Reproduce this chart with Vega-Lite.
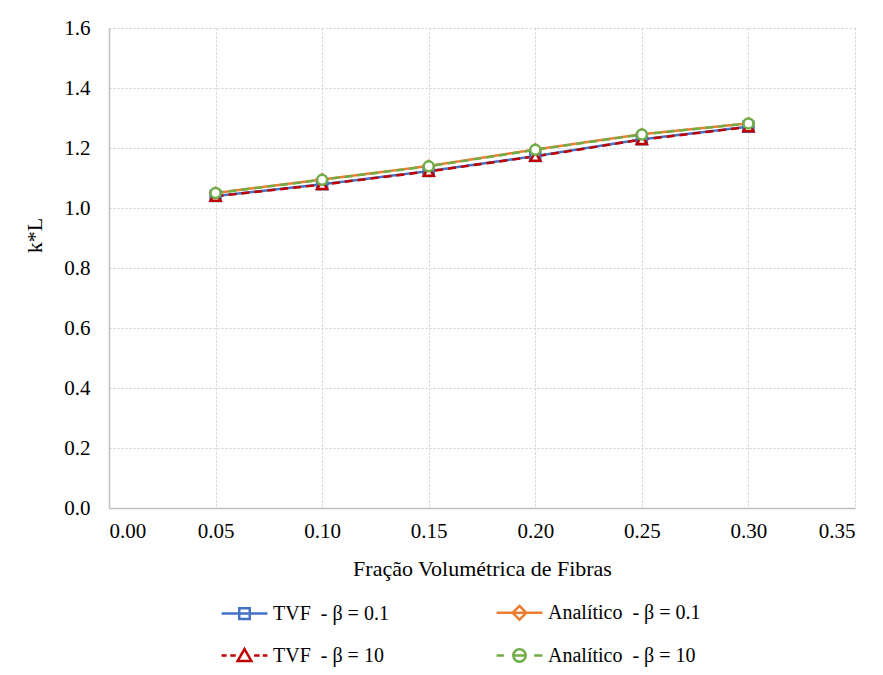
{
  "$schema": "https://vega.github.io/schema/vega-lite/v6.json",
  "width": 746,
  "height": 480,
  "autosize": {"type": "none"},
  "padding": {"left": 109, "top": 28, "right": 28, "bottom": 167},
  "background": "white",
  "config": {
    "font": "Liberation Serif",
    "view": {"stroke": null},
    "axis": {
      "labelFont": "Liberation Serif",
      "labelFontSize": 21,
      "labelColor": "#000000",
      "titleFont": "Liberation Serif",
      "titleFontSize": 22,
      "titleFontWeight": "normal",
      "titleColor": "#000000",
      "gridColor": "#d0d0d0",
      "gridDash": [2, 2],
      "gridWidth": 1,
      "domainColor": "#bfbfbf",
      "domainWidth": 1.5,
      "ticks": false
    }
  },
  "data": {
    "values": [
      {"serie": "s1", "beta": "0.1", "frac": 0.05, "k": 1.040},
      {"serie": "s1", "beta": "0.1", "frac": 0.10, "k": 1.079},
      {"serie": "s1", "beta": "0.1", "frac": 0.15, "k": 1.123},
      {"serie": "s1", "beta": "0.1", "frac": 0.20, "k": 1.173},
      {"serie": "s1", "beta": "0.1", "frac": 0.25, "k": 1.229},
      {"serie": "s1", "beta": "0.1", "frac": 0.30, "k": 1.271},
      {"serie": "s2", "beta": "0.1", "frac": 0.05, "k": 1.050},
      {"serie": "s2", "beta": "0.1", "frac": 0.10, "k": 1.095},
      {"serie": "s2", "beta": "0.1", "frac": 0.15, "k": 1.140},
      {"serie": "s2", "beta": "0.1", "frac": 0.20, "k": 1.195},
      {"serie": "s2", "beta": "0.1", "frac": 0.25, "k": 1.246},
      {"serie": "s2", "beta": "0.1", "frac": 0.30, "k": 1.282},
      {"serie": "s3", "beta": "10", "frac": 0.05, "k": 1.039},
      {"serie": "s3", "beta": "10", "frac": 0.10, "k": 1.078},
      {"serie": "s3", "beta": "10", "frac": 0.15, "k": 1.122},
      {"serie": "s3", "beta": "10", "frac": 0.20, "k": 1.172},
      {"serie": "s3", "beta": "10", "frac": 0.25, "k": 1.228},
      {"serie": "s3", "beta": "10", "frac": 0.30, "k": 1.270},
      {"serie": "s4", "beta": "10", "frac": 0.05, "k": 1.050},
      {"serie": "s4", "beta": "10", "frac": 0.10, "k": 1.094},
      {"serie": "s4", "beta": "10", "frac": 0.15, "k": 1.139},
      {"serie": "s4", "beta": "10", "frac": 0.20, "k": 1.194},
      {"serie": "s4", "beta": "10", "frac": 0.25, "k": 1.245},
      {"serie": "s4", "beta": "10", "frac": 0.30, "k": 1.282}
    ]
  },
  "encoding": {
    "x": {
      "field": "frac",
      "type": "quantitative",
      "scale": {"domain": [0, 0.35], "nice": false, "zero": false},
      "axis": {
        "values": [0, 0.05, 0.1, 0.15, 0.2, 0.25, 0.3, 0.35],
        "format": ".2f",
        "title": "Fração Volumétrica de Fibras",
        "labelPadding": 12,
        "titlePadding": 17
      }
    },
    "y": {
      "field": "k",
      "type": "quantitative",
      "scale": {"domain": [0, 1.6], "nice": false},
      "axis": {
        "values": [0, 0.2, 0.4, 0.6, 0.8, 1.0, 1.2, 1.4, 1.6],
        "format": ".1f",
        "title": "k*L",
        "labelPadding": 19,
        "titleX": -75,
        "titleY": 207,
        "titleAngle": -90,
        "titleAlign": "center",
        "titleBaseline": "middle",
        "titleFontSize": 22
      }
    }
  },
  "layer": [
    {
      "mark": {"type": "line", "strokeWidth": 2.5},
      "encoding": {
        "color": {"field": "serie", "type": "nominal", "scale": {"domain": ["s1", "s2", "s3", "s4"], "range": ["#4472C4", "#ED7D31", "#C00000", "#70AD47"]}},
        "strokeDash": {"field": "beta", "type": "nominal", "scale": {"domain": ["0.1", "10"], "range": [[1, 0], [8, 5]]}, "legend": null},
        "detail": {"field": "serie"}
      }
    },
    {
      "transform": [{"filter": "datum.serie == 's1'"}],
      "mark": {"type": "point", "shape": "square", "filled": false, "fill": "white", "strokeWidth": 2.5, "size": 100, "opacity": 1},
      "encoding": {"color": {"field": "serie", "type": "nominal"}}
    },
    {
      "transform": [{"filter": "datum.serie == 's2'"}],
      "mark": {"type": "point", "shape": "diamond", "filled": false, "fill": "white", "strokeWidth": 2.5, "size": 110, "opacity": 1},
      "encoding": {"color": {"field": "serie", "type": "nominal"}}
    },
    {
      "transform": [{"filter": "datum.serie == 's3'"}],
      "mark": {"type": "point", "shape": "triangle-up", "filled": false, "fill": "white", "strokeWidth": 2.5, "size": 100, "opacity": 1},
      "encoding": {"color": {"field": "serie", "type": "nominal"}}
    },
    {
      "transform": [{"filter": "datum.serie == 's4'"}],
      "mark": {"type": "point", "shape": "circle", "filled": false, "fill": "white", "strokeWidth": 2.5, "size": 100, "opacity": 1},
      "encoding": {"color": {"field": "serie", "type": "nominal"}}
    },
    {
      "mark": {"type": "point", "filled": false, "fill": "white", "strokeWidth": 2.5, "size": 0},
      "encoding": {
        "color": {
          "field": "serie",
          "type": "nominal",
          "legend": {
            "title": null,
            "orient": "none",
            "direction": "horizontal",
            "legendX": 111,
            "legendY": 560,
            "columns": 2,
            "columnPadding": 102,
            "rowPadding": 6,
            "padding": 0,
            "symbolSize": 2100,
            "symbolStrokeWidth": 2.5,
            "symbolFillColor": "white",
            "labelFont": "Liberation Serif",
            "labelFontSize": 20,
            "labelColor": "#000000",
            "labelOffset": 4,
            "labelLimit": 300,
            "labelExpr": "datum.value == 's1' ? 'TVF\u00a0 - β = 0.1' : datum.value == 's2' ? 'Analítico\u00a0 - β = 0.1' : datum.value == 's3' ? 'TVF\u00a0 - β = 10' : 'Analítico\u00a0 - β = 10'"
          }
        },
        "shape": {
          "field": "serie",
          "type": "nominal",
          "scale": {
            "domain": ["s1", "s2", "s3", "s4"],
            "range": [
              "M-1,0H1M-0.23,-0.23H0.23V0.23H-0.23Z",
              "M-1,0H1M0,-0.3L0.3,0L0,0.3L-0.3,0Z",
              "M-1,0H-0.78M-0.62,0H-0.38M0,-0.28L0.3,0.24H-0.3ZM0.42,0H0.66M0.8,0H1",
              "M-1,0H-0.68M0.64,0H1M0.27,0A0.27,0.27,0,1,1,-0.27,0A0.27,0.27,0,1,1,0.27,0ZM-0.27,0H0.27"
            ]
          }
        }
      }
    }
  ]
}
